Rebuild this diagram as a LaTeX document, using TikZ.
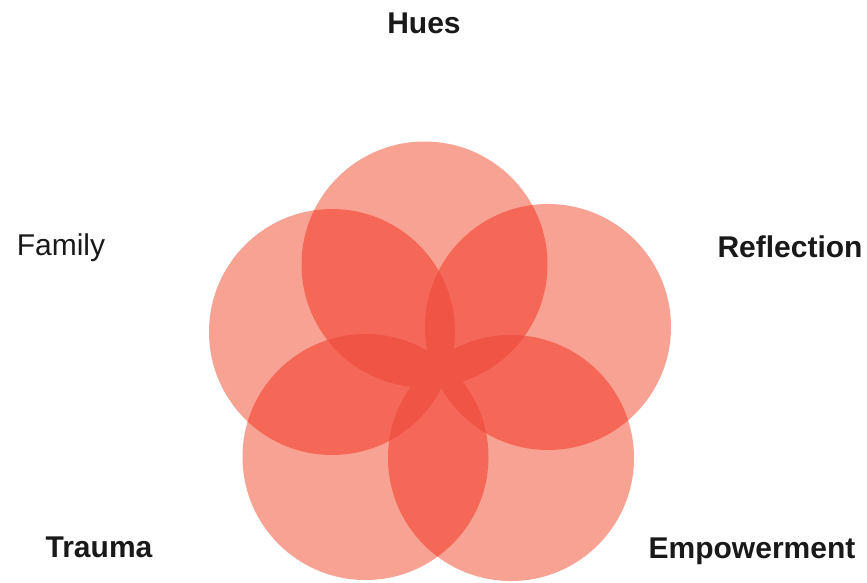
\documentclass[tikz,border=0pt]{standalone}
\usepackage{fontspec}
\setmainfont{Liberation Sans}
\definecolor{petalred}{RGB}{248,162,148}
\definecolor{lensred}{RGB}{245,104,88}
\definecolor{tripred}{RGB}{240,84,68}
\definecolor{labelgray}{RGB}{25,25,25}
\tikzset{
  petal/.style={circle, minimum size=246pt, inner sep=0pt, fill=petalred, draw=none},
  lens/.style={fill=lensred, draw=none},
  triple/.style={fill=tripred, draw=none},
  lab/.style={anchor=base, text=labelgray, font=\fontsize{30}{34}\selectfont},
  blab/.style={lab, font=\fontsize{30}{34}\selectfont\bfseries}
}
\begin{document}
\begin{tikzpicture}[x=1pt,y=-1pt]
\useasboundingbox (0,0) rectangle (867,582);
\fill[white] (0,0) rectangle (867,582);
\begin{scope}[blend group=darken]
\node[petal] (cfam) at (332,332) {};
\node[petal] (chue) at (424.5,264.5) {};
\node[petal] (cref) at (548,327) {};
\node[petal] (cemp) at (511,458) {};
\node[petal] (ctra) at (365.5,457) {};
\foreach \a/\b in {cfam/chue, chue/cref, cref/cemp, cemp/ctra, ctra/cfam,
                   cfam/cref, chue/cemp, cref/ctra, cemp/cfam, ctra/chue} {
  \begin{scope}
    \clip (\a.center) circle[radius=123pt];
    \fill[lens] (\b.center) circle[radius=123pt];
  \end{scope}
}
\foreach \a/\b/\c in {cfam/chue/cref, cfam/chue/cemp, cfam/chue/ctra, cfam/cref/cemp,
                      cfam/cref/ctra, cfam/cemp/ctra, chue/cref/cemp, chue/cref/ctra,
                      chue/cemp/ctra, cref/cemp/ctra} {
  \begin{scope}
    \clip (\a.center) circle[radius=123pt];
    \clip (\b.center) circle[radius=123pt];
    \fill[triple] (\c.center) circle[radius=123pt];
  \end{scope}
}
\end{scope}
\node[blab] (hues) at (424,33) {Hues};
\node[lab] (family) at (61,255) {Family};
\node[blab] (reflection) at (790,257) {Reflection};
\node[blab] (trauma) at (99,557) {Trauma};
\node[blab] (empowerment) at (752,558) {Empowerment};
\end{tikzpicture}
\end{document}
